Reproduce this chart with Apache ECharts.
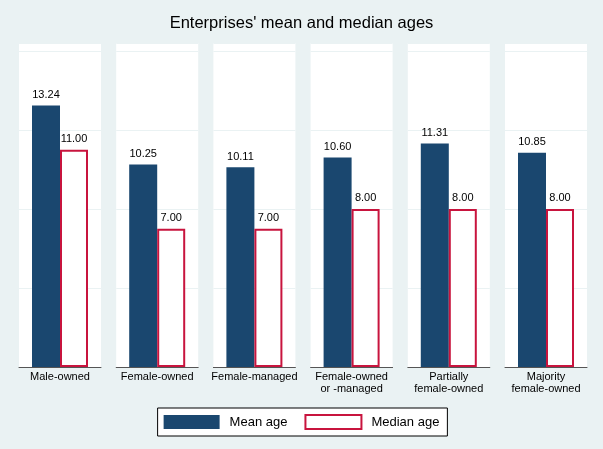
<!DOCTYPE html>
<html>
<head>
<meta charset="utf-8">
<script src="https://cdn.jsdelivr.net/npm/echarts@6/dist/echarts.min.js"></script>
<style>
  html, body { margin: 0; padding: 0; background: #eaf2f3; }
  #chart { width: 603px; height: 449px; }
</style>
</head>
<body>
<div id="chart"></div>
<script>
// 各组企业类别
const categories = [
  "Male-owned",
  "Female-owned",
  "Female-managed",
  "Female-owned\nor -managed",
  "Partially\nfemale-owned",
  "Majority\nfemale-owned",
];
const meanAge = [13.24, 10.25, 10.11, 10.6, 11.31, 10.85];
const medianAge = [11, 7, 7, 8, 8, 8];

const font = "Liberation Sans, Arial, sans-serif";
const navy = "#1a476f";
const red = "#c8143e";

const chart = echarts.init(document.getElementById("chart"));

const grids = [];
const xAxes = [];
const yAxes = [];
const series = [];

const valueLabel = {
  show: true,
  position: "top",
  distance: 5,
  fontSize: 11,
  fontFamily: font,
  color: "#000",
  formatter: function (p) { return p.value.toFixed(2); },
};

categories.forEach(function (cat, i) {
  grids.push({
    left: 19 + i * 97.2,
    top: 43,
    width: 82,
    height: 324,
    backgroundColor: "#ffffff",
    show: true,
    borderWidth: 0,
  });
  xAxes.push({
    type: "category",
    gridIndex: i,
    data: [cat],
    axisTick: { show: false },
    axisLine: { lineStyle: { color: "#555555", width: 1 } },
    axisLabel: {
      color: "#000",
      fontSize: 11,
      fontFamily: font,
      margin: 4,
      lineHeight: 12,
      interval: 0,
    },
  });
  yAxes.push({
    type: "value",
    gridIndex: i,
    min: 0,
    max: 16.4,
    interval: 4,
    axisLabel: { show: false },
    axisLine: { show: false },
    axisTick: { show: false },
    splitLine: { lineStyle: { color: "#eaf2f3", width: 1 } },
  });
  series.push({
    name: "Mean age",
    type: "bar",
    xAxisIndex: i,
    yAxisIndex: i,
    data: [meanAge[i]],
    barWidth: 28,
    barGap: "0%",
    itemStyle: { color: navy },
    label: valueLabel,
  });
  series.push({
    name: "Median age",
    type: "bar",
    xAxisIndex: i,
    yAxisIndex: i,
    data: [medianAge[i]],
    barWidth: 28,
    barGap: "0%",
    itemStyle: { color: "#ffffff", borderColor: red, borderWidth: 2 },
    label: valueLabel,
  });
});

const option = {
  backgroundColor: "#eaf2f3",
  animation: false,
  title: {
    text: "Enterprises' mean and median ages",
    left: "center",
    top: 10,
    textStyle: {
      fontSize: 16.5,
      fontWeight: "normal",
      fontFamily: font,
      color: "#000",
    },
  },
  legend: {
    data: ["Mean age", "Median age"],
    left: "center",
    top: 408,
    backgroundColor: "#ffffff",
    borderColor: "#000",
    borderWidth: 1,
    borderRadius: 0,
    padding: [6, 8, 6, 6],
    itemWidth: 56,
    itemHeight: 14,
    itemGap: 17,
    icon: "rect",
    textStyle: { fontSize: 13, fontFamily: font, color: "#000", padding: [0, 0, 0, 5] },
  },
  grid: grids,
  xAxis: xAxes,
  yAxis: yAxes,
  series: series,
};

chart.setOption(option);
</script>
</body>
</html>
